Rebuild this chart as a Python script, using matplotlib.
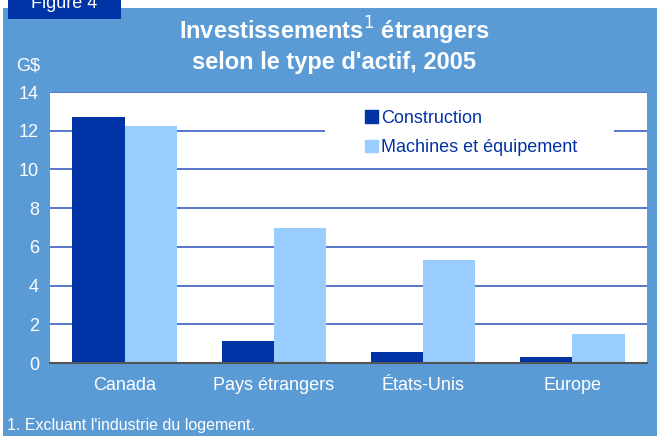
import numpy as np
import matplotlib
matplotlib.use('Agg')
import matplotlib.pyplot as plt
from matplotlib.patches import Rectangle, Patch

plt.rcParams['font.family'] = ['Liberation Sans', 'DejaVu Sans']

regions = ['Canada', 'Pays étrangers', 'États-Unis', 'Europe']
construction = [12.7, 1.15, 0.55, 0.3]
machines = [12.25, 7.0, 5.3, 1.5]
yticks = [0, 2, 4, 6, 8, 10, 12, 14]

panel_blue = '#5b9bd5'
dark_blue = '#0033a6'
light_blue = '#99ccff'
grid_blue = '#3a5fc0'

W, H = 663, 436
fig = plt.figure(figsize=(W / 100, H / 100), dpi=100, facecolor='white')

def fx(px):
    return px / W

def fy(py):
    return 1 - py / H

# panneau bleu + onglet "Figure 4"
fig.patches.append(Rectangle((fx(3), 0), fx(654), fy(8), transform=fig.transFigure,
                             facecolor=panel_blue, edgecolor='none', zorder=0))
fig.patches.append(Rectangle((fx(8), fy(19)), fx(113), 19 / H, transform=fig.transFigure,
                             facecolor=dark_blue, edgecolor='none', zorder=1))
fig.text(fx(64), fy(3), 'Figure 4', color='white', fontsize=13, ha='center', va='center')

fig.text(fx(334), fy(31), r'Investissements$^{\mathrm{1}}$ étrangers', color='white',
         fontsize=17, fontweight='bold', ha='center', va='center')
fig.text(fx(334), fy(63), "selon le type d'actif, 2005", color='white',
         fontsize=17, fontweight='bold', ha='center', va='center')
fig.text(fx(28), fy(66), 'G$', color='white', fontsize=13, ha='center', va='center')
fig.text(fx(7), fy(425), "1. Excluant l'industrie du logement.", color='white',
         fontsize=11.5, ha='left', va='center')

ax = fig.add_axes([fx(50), fy(363), fx(597), (363 - 92) / H])
ax.set_zorder(3)
ax.set_facecolor('white')

x = np.arange(len(regions))
w = 0.35
ax.bar(x - w / 2, construction, w, color=dark_blue, label='Construction', zorder=3)
ax.bar(x + w / 2, machines, w, color=light_blue, label='Machines et équipement', zorder=3)

ax.set_xlim(-0.5, len(regions) - 0.5)
ax.set_ylim(0, 14)
ax.set_yticks(yticks)
ax.set_xticks(x)
ax.set_xticklabels(regions)
ax.tick_params(length=0, colors='white', labelsize=13)
ax.tick_params(axis='x', pad=10)
ax.tick_params(axis='y', pad=8)
for t in ax.get_yticklabels() + ax.get_xticklabels():
    t.set_color('white')

ax.yaxis.grid(True, color=grid_blue, linewidth=1.2, zorder=1)
ax.set_axisbelow(True)
for s in ['top', 'right', 'left']:
    ax.spines[s].set_visible(False)
ax.spines['bottom'].set_color('#555555')
ax.spines['bottom'].set_linewidth(1.5)
ax.spines['bottom'].set_zorder(4)

# fond blanc de la légende
ax.add_patch(Rectangle(((325 - 50) / 597, (363 - 162) / 271), (614 - 325) / 597, 62 / 271,
                       transform=ax.transAxes, facecolor='white', edgecolor='none', zorder=2))

handles = [Patch(color=dark_blue, label='Construction'),
           Patch(color=light_blue, label='Machines et équipement')]
leg = ax.legend(handles=handles, loc='upper left', bbox_to_anchor=((365 - 50) / 597, (363 - 110) / 271),
                frameon=False, fontsize=13, handlelength=0.7, handleheight=0.7, handletextpad=0.2,
                labelspacing=0.68, borderpad=0, borderaxespad=0)
leg.set_zorder(5)
for t in leg.get_texts():
    t.set_color(dark_blue)

fig.savefig('out.png', dpi=100, facecolor=fig.get_facecolor())
